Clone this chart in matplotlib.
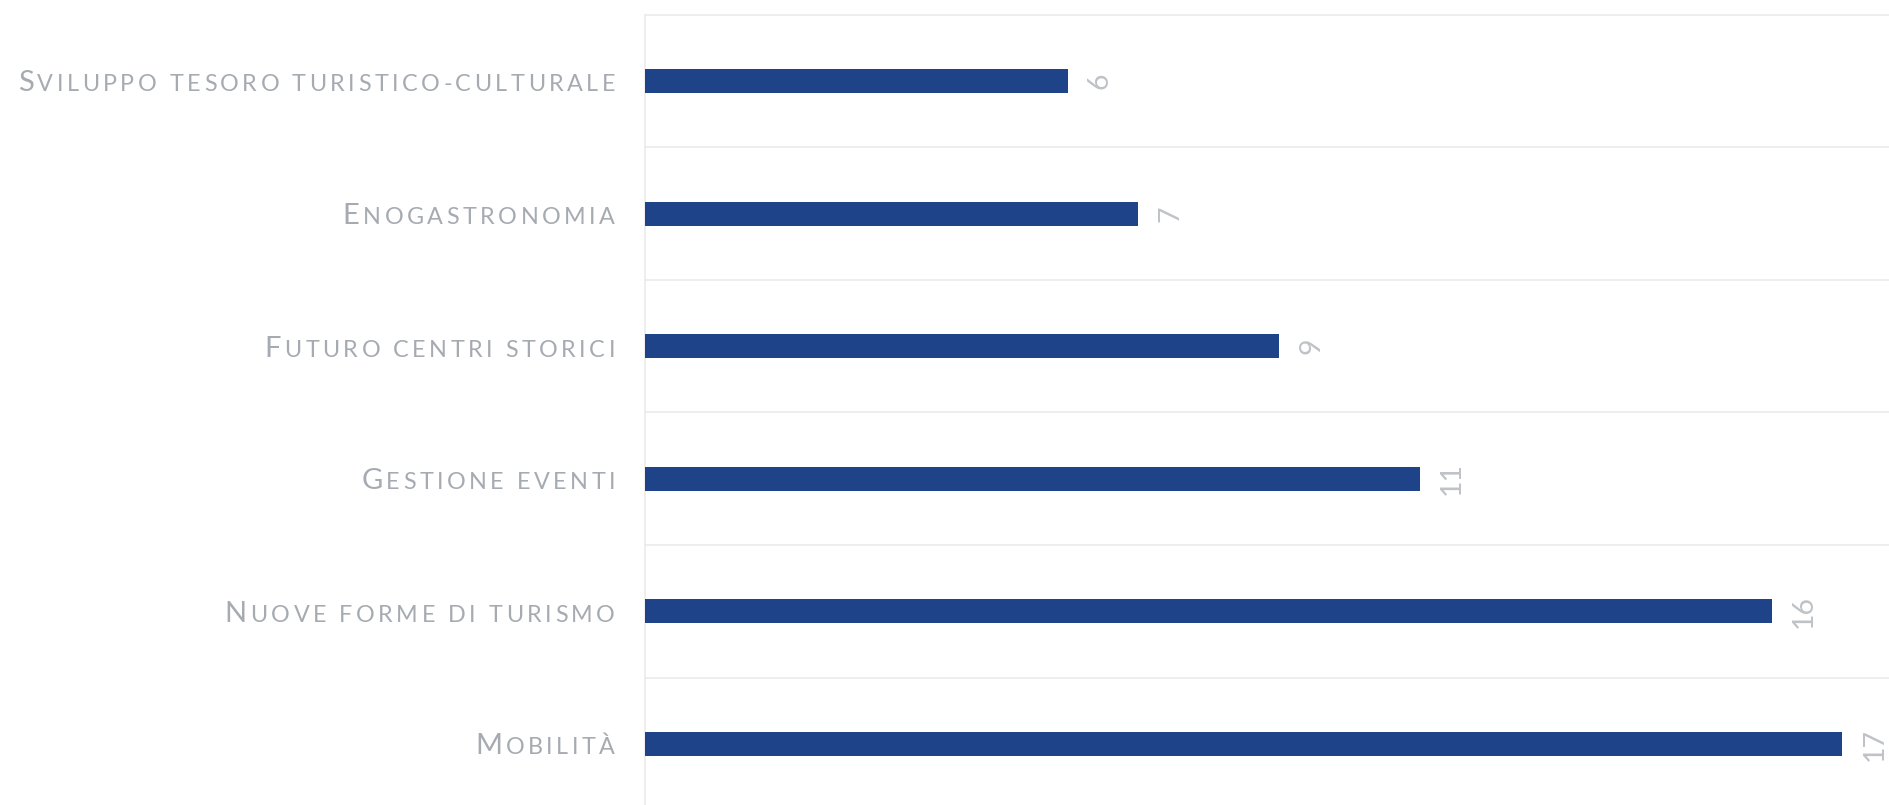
import numpy as np
import matplotlib
matplotlib.use('Agg')
import matplotlib.pyplot as plt
from matplotlib import font_manager
from matplotlib.ft2font import FT2Font
from matplotlib.transforms import IdentityTransform

categories = ['Sviluppo tesoro turistico-culturale', 'Enogastronomia',
              'Futuro centri storici', 'Gestione eventi',
              'Nuove forme di turismo', 'Mobilità']
values = [6, 7, 9, 11, 16, 17]

bar_color = '#1f4388'
label_color = '#a6abb2'
value_color = '#bfc3c8'
grid_color = '#e9e9e9'
family = 'Lato'
weight = 'normal'

W, H, DPI = 1890, 805, 100
fig = plt.figure(figsize=(W / DPI, H / DPI), dpi=DPI)
ax = fig.add_axes([645 / W, (H - 810.3) / H, 1245 / W, 795.6 / H])

ypos = np.arange(len(categories))
ax.barh(ypos, values, height=0.18, color=bar_color, zorder=3)
ax.set_xlim(0, 17.68)
ax.set_ylim(len(categories) - 0.5, -0.5)
for b in np.arange(-0.5, len(categories), 1.0):
    ax.axhline(b, color=grid_color, lw=1.1, clip_on=False, zorder=1)

for s in ['top', 'right', 'bottom']:
    ax.spines[s].set_visible(False)
ax.spines['left'].set_color(grid_color)
ax.spines['left'].set_linewidth(1.1)
ax.set_xticks([])
ax.set_yticks([])

# value labels, rotated
for i, v in enumerate(values):
    ax.annotate(str(v), (v, i), xytext=(14, 0), textcoords='offset points',
                rotation=90, ha='left', va='center', fontsize=20.5,
                color=value_color, family=family, weight=weight)

# category labels in fake small caps with letter spacing
big_size, small_size = 21, 16.8
prop = font_manager.FontProperties(family=family, weight=weight, size=big_size)
font = FT2Font(font_manager.findfont(prop))


def advance(ch, size):
    font.set_size(size, DPI)
    g = font.load_char(ord(ch))
    return g.linearHoriAdvance / 65536


def layout(text, track):
    chars = [(text[0].upper(), big_size)] + [(c.upper(), small_size) for c in text[1:]]
    pos = []
    x = 0
    for ch, sz in chars:
        pos.append(x)
        x += advance(ch, sz) + track
    return chars, pos, x - track


chars0, _, natural = layout(categories[0], 0)
track = (597 - natural) / (len(chars0) - 1)

right_px = 615
cap_half = 10.4
for i, text in enumerate(categories):
    chars, pos, total = layout(text, track)
    x0 = right_px - total
    yc = ax.transData.transform((0, i))[1]
    for (ch, sz), px in zip(chars, pos):
        if ch == ' ':
            continue
        fig.text(x0 + px, yc - cap_half, ch, transform=IdentityTransform(),
                 ha='left', va='baseline', fontsize=sz, color=label_color,
                 family=family, weight=weight)

fig.savefig('out.png', dpi=DPI)
